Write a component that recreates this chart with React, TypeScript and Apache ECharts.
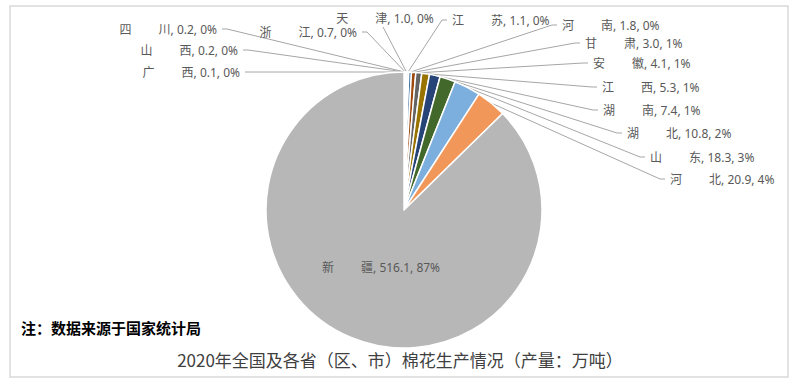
import React, { useEffect, useRef } from 'react';
import * as echarts from 'echarts';

const provinces = ['广西', '山西', '四川', '浙江', '天津', '江苏', '河南', '甘肃', '安徽', '江西', '湖南', '湖北', '山东', '河北', '新疆'];
const output = [0.1, 0.2, 0.2, 0.7, 1.0, 1.1, 1.8, 3.0, 4.1, 5.3, 7.4, 10.8, 18.3, 20.9, 516.1];
const sliceColors = ['#5B9BD5', '#ED7D31', '#A5A5A5', '#FFC000', '#4472C4', '#70AD47', '#255E91', '#9E480E', '#636363', '#997300', '#264478', '#43682B', '#7CAFDD', '#F1975A', '#B7B7B7'];
const titleText = '2020年全国及各省（区、市）棉花生产情况（产量：万吨）';
const noteText = '注：数据来源于国家统计局';

// label anchors (layout only): [x, y, side]  L = text ends at x, R = text starts at x, T = above line, I = inside slice
const labelAnchors: [number, number, string][] = [
  [240, 72, 'L'], [238, 50, 'L'], [217, 29, 'L'], [357, 32, 'L'], [385, 18, 'T'],
  [452, 20, 'R'], [562, 25, 'R'], [585, 43, 'R'], [593, 63, 'R'], [602, 87, 'R'],
  [603, 110, 'R'], [627, 133, 'R'], [650, 157, 'R'], [670, 179, 'R'], [381, 267, 'I'],
];

const FONT = '"Noto Sans", "Noto Sans CJK SC", sans-serif';

export default function App() {
  const ref = useRef<HTMLDivElement>(null);
  useEffect(() => {
    if (!ref.current) return;
    const chart = echarts.init(ref.current, undefined, { renderer: 'svg' });
    const data = provinces.map((p, i) => {
      const item: any = { name: p, value: output[i], itemStyle: { color: sliceColors[i] } };
      if (labelAnchors[i][2] === 'I') {
        item.label = { position: 'inside' };
        item.labelLine = { show: false };
      }
      return item;
    });
    chart.setOption({
      animation: false,
      backgroundColor: '#ffffff',
      graphic: [
        {
          type: 'rect',
          shape: { x: 10, y: 6, width: 778, height: 371 },
          style: { fill: 'none', stroke: '#d9d9d9', lineWidth: 1.5 },
          silent: true,
        },
        {
          type: 'text',
          left: 21,
          top: 320,
          style: { text: noteText, fontSize: 15, fontWeight: 'bold', fill: '#000000', fontFamily: '"Noto Sans CJK SC", sans-serif' },
          silent: true,
        },
        {
          type: 'text',
          left: 'center',
          top: 351,
          style: { text: titleText, fontSize: 17, fill: '#404040', fontFamily: '"Noto Sans CJK SC", sans-serif' },
          silent: true,
        },
      ],
      series: [
        {
          type: 'pie',
          silent: true,
          center: [404, 210],
          radius: 138,
          startAngle: 90,
          clockwise: true,
          avoidLabelOverlap: false,
          itemStyle: { borderColor: '#ffffff', borderWidth: 1.5 },
          label: {
            show: true,
            fontSize: 12,
            color: '#595959',
            fontFamily: FONT,
            formatter: (p: any) =>
              `${p.name[0]}\u3000\u3000 ${p.name[1]}, ${Number(p.value).toFixed(1)}, ${Math.round(p.percent)}%`,
          },
          labelLine: { show: true, lineStyle: { color: '#a6a6a6', width: 1 } },
          labelLayout: (params: any) => {
            const [x, y, side] = labelAnchors[params.dataIndex];
            const start = params.labelLinePoints ? params.labelLinePoints[0] : null;
            if (side === 'I') {
              return { x, y, align: 'center', verticalAlign: 'middle' };
            }
            if (side === 'L') {
              return {
                x, y, align: 'right', verticalAlign: 'middle',
                labelLinePoints: start ? [start, [x + 10, y], [x + 5, y]] : undefined,
              };
            }
            if (side === 'R') {
              return {
                x, y, align: 'left', verticalAlign: 'middle',
                labelLinePoints: start ? [start, [x - 10, y], [x - 5, y]] : undefined,
              };
            }
            return {
              x, y, align: 'center', verticalAlign: 'middle',
              labelLinePoints: start ? [start, [x - 2, y + 9]] : undefined,
            };
          },
          data,
        },
      ],
    });
    return () => chart.dispose();
  }, []);
  return <div ref={ref} style={{ position: 'absolute', left: 0, top: 0, width: 800, height: 387 }} />;
}
